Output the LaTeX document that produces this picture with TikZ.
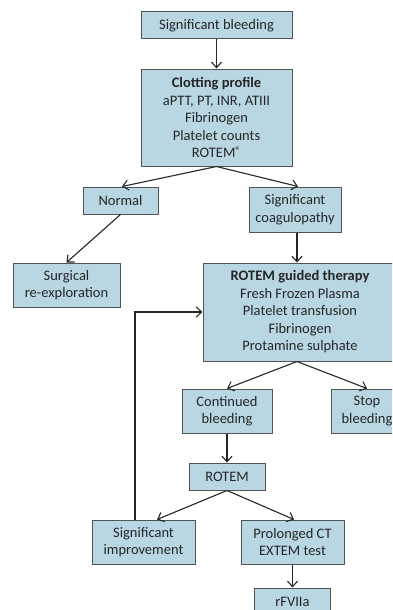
\documentclass[tikz,border=0pt]{standalone}
\usepackage{fontspec}
\setmainfont{Carlito}
\usepackage{tikz}
\usetikzlibrary{arrows.meta, positioning, calc}
\usepackage{xcolor}
\definecolor{boxblue}{RGB}{184,215,227}
\definecolor{boxline}{RGB}{80,84,86}

\begin{document}
\begin{tikzpicture}[
    x=1pt, y=-1pt,
    box/.style={rectangle, draw=boxline, line width=1pt, fill=boxblue, align=center, inner sep=2pt, text=black!85, font=\fontsize{14.5}{17.5}\selectfont},
    arr/.style={-{Straight Barb[length=5.5pt, width=10pt]}, line width=1.1pt, color=black!85},
    node distance=29pt
]
\clip (0,0) rectangle (392,610);
\fill[white] (0,0) rectangle (392,610);

\node[box, minimum width=151pt, minimum height=27pt] (bleed) at (216.5,25.5) {Significant bleeding};
\node[box, minimum width=151pt, minimum height=97pt, below=of bleed] (clot) {\textbf{Clotting profile}\\aPTT, PT, INR, ATIII\\Fibrinogen\\Platelet counts\\ROTEM{\fontsize{11}{11}\selectfont\raisebox{3.5pt}{®}}};

\node[box, minimum width=75pt, minimum height=27pt] (normal) at (120.5,200.5) {Normal};
\node[box, minimum width=92pt, minimum height=45pt] (coag) at (295,209.5) {Significant\\coagulopathy};
\node[box, minimum width=107pt, minimum height=44pt] (surg) at (66.5,285) {Surgical\\re-exploration};
\node[box, minimum width=194pt, minimum height=98pt] (therapy) at (300,312) {\textbf{ROTEM guided therapy}\\Fresh Frozen Plasma\\Platelet transfusion\\Fibrinogen\\Protamine sulphate};

\node[box, minimum width=90pt, minimum height=44pt] (cont) at (227,411) {Continued\\bleeding};
\node[box, minimum width=72pt, minimum height=44pt] (stop) at (367,411) {Stop\\bleeding};
\node[box, minimum width=76pt, minimum height=27pt, below=of cont] (rotem) {ROTEM};
\node[box, minimum width=103pt, minimum height=44pt] (improve) at (143.5,542) {Significant\\improvement};
\node[box, minimum width=103pt, minimum height=44pt] (prolong) at (292.5,542) {Prolonged CT\\EXTEM test};
\node[box, minimum width=76pt, minimum height=27pt, below=23pt of prolong] (rf) {rFVIIa};

\draw[arr] (bleed) -- (clot);
\draw[arr] (clot.south) -- ([xshift=1.5pt]normal.north);
\draw[arr] (clot.south) -- ([xshift=3pt]coag.north);
\draw[arr] (normal.south) -- (surg.north);
\draw[arr] ([xshift=2pt]coag.south) -- ([xshift=2pt]coag.south |- therapy.north);
\draw[arr] ([xshift=-3pt]therapy.south) -- (cont.north);
\draw[arr] ([xshift=-3pt]therapy.south) -- (stop.north);
\draw[arr] (cont) -- (rotem);
\draw[arr] (rotem.south) -- ([xshift=13.5pt]improve.north);
\draw[arr] (rotem.south) -- ([xshift=1.5pt]prolong.north);
\draw[arr] (prolong) -- (prolong |- rf.north);

% back to therapy
\draw[arr] ([xshift=-8.5pt]improve.north) |- (therapy.west);
\end{tikzpicture}
\end{document}
